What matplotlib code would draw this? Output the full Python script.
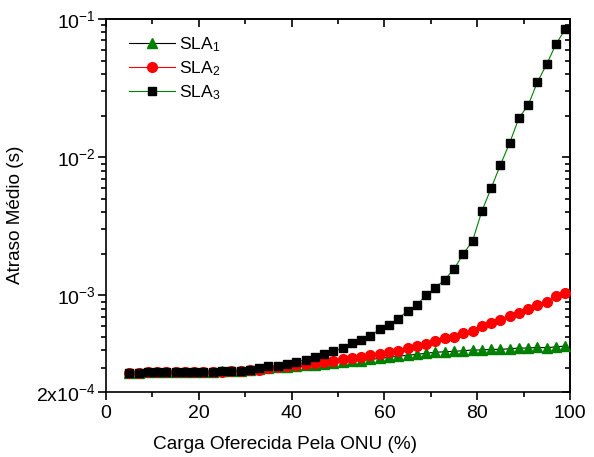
import numpy as np
import matplotlib
matplotlib.use('Agg')
import matplotlib.pyplot as plt
from matplotlib.ticker import FixedLocator, MultipleLocator, LogLocator, NullFormatter

plt.rcParams['font.family'] = 'Liberation Sans'
plt.rcParams['mathtext.fontset'] = 'custom'
plt.rcParams['mathtext.rm'] = 'Liberation Sans'
plt.rcParams['mathtext.it'] = 'Liberation Sans'

# carga oferecida (%)
carga = [5, 7, 9, 11, 13, 15, 17, 19, 21, 23, 25, 27, 29, 31, 33, 35,
         37, 39, 41, 43, 45, 47, 49, 51, 53, 55, 57, 59, 61, 63, 65, 67,
         69, 71, 73, 75, 77, 79, 81, 83, 85, 87, 89, 91, 93, 95, 97, 99]

# atraso medio (s)
sla1 = [2.73e-4, 2.76e-4, 2.77e-4, 2.77e-4, 2.78e-4, 2.78e-4, 2.78e-4, 2.79e-4,
        2.79e-4, 2.81e-4, 2.83e-4, 2.84e-4, 2.86e-4, 2.89e-4, 2.92e-4, 2.96e-4,
        3.01e-4, 3.04e-4, 3.09e-4, 3.12e-4, 3.16e-4, 3.20e-4, 3.24e-4, 3.28e-4,
        3.33e-4, 3.38e-4, 3.44e-4, 3.50e-4, 3.56e-4, 3.63e-4, 3.69e-4, 3.75e-4,
        3.81e-4, 3.88e-4, 3.91e-4, 3.94e-4, 3.98e-4, 4.03e-4, 4.03e-4, 4.07e-4,
        4.07e-4, 4.11e-4, 4.16e-4, 4.16e-4, 4.21e-4, 4.18e-4, 4.25e-4, 4.30e-4]

sla2 = [2.73e-4, 2.76e-4, 2.77e-4, 2.77e-4, 2.78e-4, 2.78e-4, 2.78e-4, 2.79e-4,
        2.79e-4, 2.80e-4, 2.81e-4, 2.82e-4, 2.84e-4, 2.87e-4, 2.91e-4, 2.98e-4,
        3.05e-4, 3.10e-4, 3.13e-4, 3.17e-4, 3.23e-4, 3.30e-4, 3.37e-4, 3.45e-4,
        3.53e-4, 3.60e-4, 3.69e-4, 3.77e-4, 3.88e-4, 3.98e-4, 4.16e-4, 4.30e-4,
        4.45e-4, 4.68e-4, 4.89e-4, 4.98e-4, 5.32e-4, 5.53e-4, 6.01e-4, 6.28e-4,
        6.64e-4, 7.09e-4, 7.50e-4, 7.93e-4, 8.48e-4, 8.96e-4, 9.95e-4, 1.035e-3]

sla3 = [2.73e-4, 2.76e-4, 2.77e-4, 2.77e-4, 2.78e-4, 2.78e-4, 2.78e-4, 2.78e-4,
        2.79e-4, 2.80e-4, 2.82e-4, 2.84e-4, 2.86e-4, 2.91e-4, 2.98e-4, 3.06e-4,
        3.11e-4, 3.21e-4, 3.31e-4, 3.43e-4, 3.60e-4, 3.77e-4, 3.96e-4, 4.14e-4,
        4.52e-4, 4.76e-4, 5.11e-4, 5.68e-4, 6.14e-4, 6.78e-4, 7.71e-4, 8.52e-4,
        1.007e-3, 1.137e-3, 1.299e-3, 1.552e-3, 1.993e-3, 2.475e-3, 4.06e-3, 5.96e-3,
        8.78e-3, 1.267e-2, 1.921e-2, 2.385e-2, 3.50e-2, 4.72e-2, 6.59e-2, 8.46e-2]

yticks = [2e-4, 1e-3, 1e-2, 1e-1]
ylabels = [r'$\mathregular{2x10^{-4}}$', r'$\mathregular{10^{-3}}$',
           r'$\mathregular{10^{-2}}$', r'$\mathregular{10^{-1}}$']

fig = plt.figure(figsize=(5.94, 4.57), dpi=100)
ax = fig.add_axes([0.1785, 0.1422, 0.781, 0.8162])

ax.plot(carga, sla1, color='black', lw=0.8, marker='^', ms=7,
        mfc='green', mec='green', label=r'SLA$_\mathregular{1}$', zorder=3)
ax.plot(carga, sla2, color='red', lw=0.8, marker='o', ms=7,
        mfc='red', mec='red', label=r'SLA$_\mathregular{2}$', zorder=4)
ax.plot(carga, sla3, color='green', lw=0.8, marker='s', ms=6,
        mfc='black', mec='black', label=r'SLA$_\mathregular{3}$', zorder=5)

ax.set_yscale('log')
ax.set_xlim(0, 100)
ax.set_ylim(2e-4, 1e-1)

ax.xaxis.set_major_locator(MultipleLocator(20))
ax.xaxis.set_minor_locator(MultipleLocator(10))
ax.yaxis.set_major_locator(FixedLocator(yticks))
ax.set_yticklabels(ylabels)
ax.yaxis.set_minor_locator(LogLocator(base=10, subs=np.arange(2, 10)))
ax.yaxis.set_minor_formatter(NullFormatter())

ax.tick_params(axis='both', which='major', labelsize=14, length=6, width=1.2)
ax.tick_params(axis='both', which='minor', length=3.5, width=1.2)
ax.tick_params(axis='both', which='both', direction='out', top=False, right=False)
ax.tick_params(axis='y', which='major', pad=1.5)

# eixos espelhados (ticks para dentro)
axt = ax.secondary_xaxis('top')
axt.xaxis.set_major_locator(MultipleLocator(20))
axt.xaxis.set_minor_locator(MultipleLocator(10))
axt.tick_params(which='both', direction='in', labeltop=False, width=1.2)
axt.tick_params(which='major', length=6)
axt.tick_params(which='minor', length=3.5)
axr = ax.secondary_yaxis('right')
axr.yaxis.set_major_locator(FixedLocator(yticks))
axr.yaxis.set_minor_locator(LogLocator(base=10, subs=np.arange(2, 10)))
axr.yaxis.set_minor_formatter(NullFormatter())
axr.tick_params(which='both', direction='in', labelright=False, width=1.2)
axr.tick_params(which='major', length=6)
axr.tick_params(which='minor', length=3.5)

for s in ax.spines.values():
    s.set_linewidth(1.2)
axt.spines['top'].set_linewidth(1.2)
axr.spines['right'].set_linewidth(1.2)

ax.set_xlabel('Carga Oferecida Pela ONU (%)', fontsize=13.7)
ax.xaxis.set_label_coords(0.386, -0.118)
ax.set_ylabel('Atraso Médio (s)', fontsize=13.7)
ax.yaxis.set_label_coords(-0.176, 0.475)

ax.legend(loc='upper left', frameon=False, fontsize=12.6, handlelength=2.6,
          handletextpad=0.25, labelspacing=0.3, borderaxespad=0.0,
          bbox_to_anchor=(0.035, 0.975))

fig.savefig('out.png', dpi=100)
